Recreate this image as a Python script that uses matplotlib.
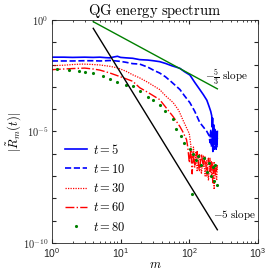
import numpy as np
import matplotlib
matplotlib.use("Agg")
import matplotlib.pyplot as plt

plt.rcParams['font.family'] = ['Liberation Sans', 'DejaVu Sans']
plt.rcParams['mathtext.fontset'] = 'cm'

# spectra: wavenumber m and log10 |R_m(t)|
m_t5 = [1, 1.5, 2, 3, 4, 5, 6, 7, 8, 9, 10, 12, 15, 19, 25, 30, 37, 45, 55, 65, 73, 85,
        102, 120, 142, 160, 180, 195, 205, 212, 215, 218, 222, 226, 230, 234, 238, 242,
        246, 250, 254, 256]
log_t5 = [-1.67, -1.67, -1.68, -1.67, -1.68, -1.67, -1.69, -1.70, -1.66, -1.63, -1.68,
          -1.70, -1.72, -1.78, -1.80, -1.83, -1.87, -1.95, -2.05, -2.12, -2.17, -2.32,
          -2.47, -2.80, -3.12, -3.35, -3.60, -3.90, -4.10, -4.30, -4.80, -4.40, -5.30,
          -4.70, -5.60, -4.90, -5.50, -5.00, -5.80, -5.20, -5.60, -5.00]

m_t10 = [1, 2, 3, 4, 5, 6, 7, 8, 10, 12, 15, 19, 25, 30, 37, 45, 55, 65, 73, 85, 102,
         120, 142, 160, 180, 195, 200, 205, 210, 215, 220, 225, 230, 240, 250, 256]
log_t10 = [-1.84, -1.84, -1.83, -1.83, -1.84, -1.83, -1.82, -1.83, -1.86, -1.90, -1.96,
           -1.98, -2.12, -2.25, -2.38, -2.55, -2.78, -2.98, -3.12, -3.40, -3.71, -4.10,
           -4.60, -4.80, -5.00, -5.20, -5.50, -4.90, -5.70, -5.10, -5.90, -5.30, -5.80,
           -5.20, -5.70, -5.30]

m_t30 = [1, 1.5, 2, 2.8, 3.5, 4, 5, 7, 9, 12, 15, 19, 25, 30, 37, 45, 58, 70, 80, 90,
         100, 105, 110, 115, 120, 125, 130, 140, 150, 160, 170, 180, 190, 200, 210, 220,
         230, 240, 250, 256]
log_t30 = [-2.05, -2.03, -2.00, -1.98, -1.99, -2.00, -2.02, -2.08, -2.15, -2.30, -2.46,
           -2.60, -2.80, -2.95, -3.12, -3.40, -3.70, -4.05, -4.46, -4.80, -5.10, -5.60,
           -6.20, -5.70, -6.60, -5.90, -6.80, -6.00, -6.90, -6.10, -7.00, -6.30, -7.20,
           -6.20, -7.00, -6.40, -7.60, -6.50, -7.20, -6.60]

m_t60 = [1, 1.5, 2, 3, 4, 5, 7, 10, 15, 19, 25, 30, 37, 45, 58, 65, 73, 80, 91, 95, 100,
         105, 110, 115, 120, 130, 140, 150, 160, 170, 180, 190, 200, 210, 220, 230, 240,
         256]
log_t60 = [-2.23, -2.20, -2.18, -2.16, -2.20, -2.25, -2.38, -2.55, -2.75, -3.04, -3.25,
           -3.40, -3.57, -3.90, -4.33, -4.55, -4.78, -5.00, -5.36, -5.70, -6.40, -5.80,
           -6.90, -6.00, -6.50, -5.90, -6.80, -6.00, -6.60, -6.10, -7.00, -6.20, -6.80,
           -6.30, -7.30, -6.40, -7.00, -6.50]

m_t80 = [1.2, 1.8, 2.5, 3, 4, 5.5, 7, 9, 12, 15, 19, 25, 30, 37, 45, 58, 65, 75, 85, 102,
         110, 115, 125, 135, 150, 165, 180, 195, 210, 220, 230, 240, 250]
log_t80 = [-2.20, -2.23, -2.30, -2.34, -2.40, -2.53, -2.65, -2.80, -2.90, -2.98, -3.20,
           -3.45, -3.60, -3.80, -4.10, -4.46, -4.90, -5.20, -5.50, -5.80, -7.80, -6.00,
           -6.30, -6.10, -6.50, -6.20, -6.80, -6.40, -7.00, -6.60, -7.20, -6.50, -7.40]

# reference slope lines
m_ref = np.array([4, 256])
c_53 = 8.4
c_5 = 430.0

fig = plt.figure(figsize=(2.66, 2.73), dpi=100)
ax = fig.add_axes([0.195, 0.110, 0.775, 0.817])

ax.loglog(m_t5, 10.0 ** np.array(log_t5), 'b-', lw=1.2, label=r'$t=5$')
ax.loglog(m_t10, 10.0 ** np.array(log_t10), 'b--', lw=1.2, label=r'$t=10$')
ax.loglog(m_t30, 10.0 ** np.array(log_t30), 'r', ls=(0, (1, 1)), lw=0.9, label=r'$t=30$')
ax.loglog(m_t60, 10.0 ** np.array(log_t60), 'r-.', lw=1.0, label=r'$t=60$')
ax.loglog(m_t80, 10.0 ** np.array(log_t80), '.', color='#008000', ms=2.5, label=r'$t=80$')

ax.loglog(m_ref, c_53 * m_ref ** (-5 / 3), color='#008000', lw=1.0)
ax.loglog(m_ref, c_5 * m_ref ** (-5.0), color='k', lw=1.0)

ax.text(168, 10 ** -2.55, r'$-\frac{5}{3}\ \mathrm{slope}$', fontsize=8, va='center')
ax.text(218, 10 ** -8.75, r'$-5\ \mathrm{slope}$', fontsize=8, va='center')

ax.set_xlim(1, 1000)
ax.set_ylim(1e-10, 1)
ax.set_yticks([10.0 ** k for k in range(-10, 1)])
ax.set_yticklabels([r'$10^{%d}$' % k if k % 5 == 0 else '' for k in range(-10, 1)])
ax.yaxis.set_minor_locator(matplotlib.ticker.NullLocator())
ax.tick_params(which='both', direction='in', top=True, right=True, labelsize=7.5,
               colors='#262626', pad=2.5)
ax.tick_params(which='major', length=3)
ax.tick_params(which='minor', length=1.5)
for s in ax.spines.values():
    s.set_color('#262626')
    s.set_linewidth(0.6)

ax.set_title(r'$\mathrm{QG\ energy\ spectrum}$', fontsize=10.5, pad=3)
ax.set_xlabel(r'$m$', fontsize=9, labelpad=-1)
ax.set_ylabel(r'$|\tilde{R}_m(t)|$', fontsize=9, labelpad=0)

ax.legend(loc='lower left', bbox_to_anchor=(0.04, 0.02), frameon=False, fontsize=9,
          handlelength=1.75, handletextpad=0.5, labelspacing=0.5, borderaxespad=0)

fig.savefig('out.png', dpi=100)
